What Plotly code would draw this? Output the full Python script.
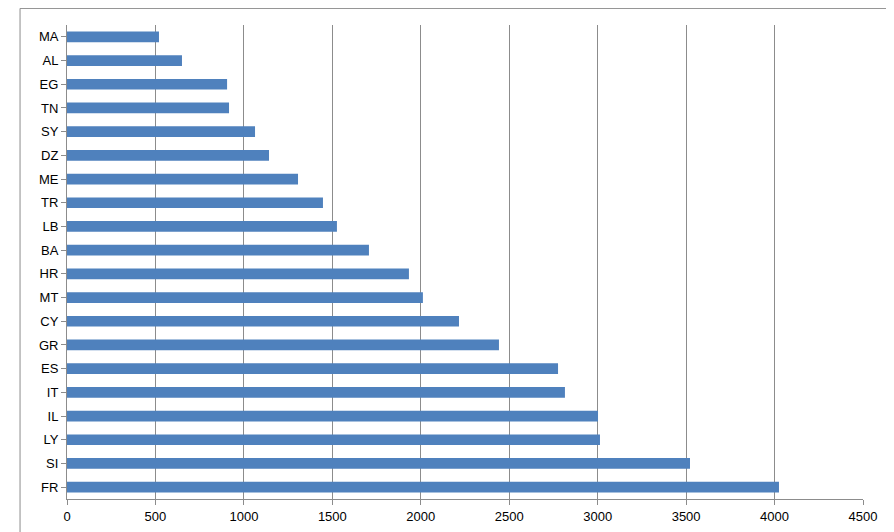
import plotly.graph_objects as go

countries = ["FR", "SI", "LY", "IL", "IT", "ES", "GR", "CY", "MT", "HR",
             "BA", "LB", "TR", "ME", "DZ", "SY", "TN", "EG", "AL", "MA"]
values = [4025, 3522, 3013, 3002, 2815, 2776, 2442, 2216, 2012, 1933,
          1707, 1526, 1447, 1306, 1142, 1063, 916, 905, 650, 520]

fig = go.Figure(go.Bar(
    x=values, y=countries, orientation="h",
    marker=dict(color="#4f81bd", line=dict(width=0)),
    width=0.45,
))

# page body adds ~8px offset, so the figure is sized a little smaller
fig.update_layout(
    width=886, height=524,
    margin=dict(l=59, r=31, t=17, b=33),
    paper_bgcolor="white", plot_bgcolor="white",
    font=dict(family="Liberation Sans, Arial", size=13, color="black"),
    showlegend=False,
    xaxis=dict(range=[0, 4500], dtick=500, showgrid=True, gridcolor="#8c8c8c",
               gridwidth=1, zeroline=False, showline=True, linecolor="#8c8c8c",
               ticks="outside", ticklen=5, tickcolor="#8c8c8c", automargin=False),
    yaxis=dict(showgrid=False, showline=True, linecolor="#8c8c8c",
               ticks="outside", ticklen=5, tickcolor="#8c8c8c", automargin=False),
    shapes=[dict(type="rect", xref="paper", yref="paper",
                 x0=-0.059, x1=1.03, y0=-0.08, y1=1.035,
                 line=dict(color="#8c8c8c", width=1))],
)

fig.write_html("out.html")
